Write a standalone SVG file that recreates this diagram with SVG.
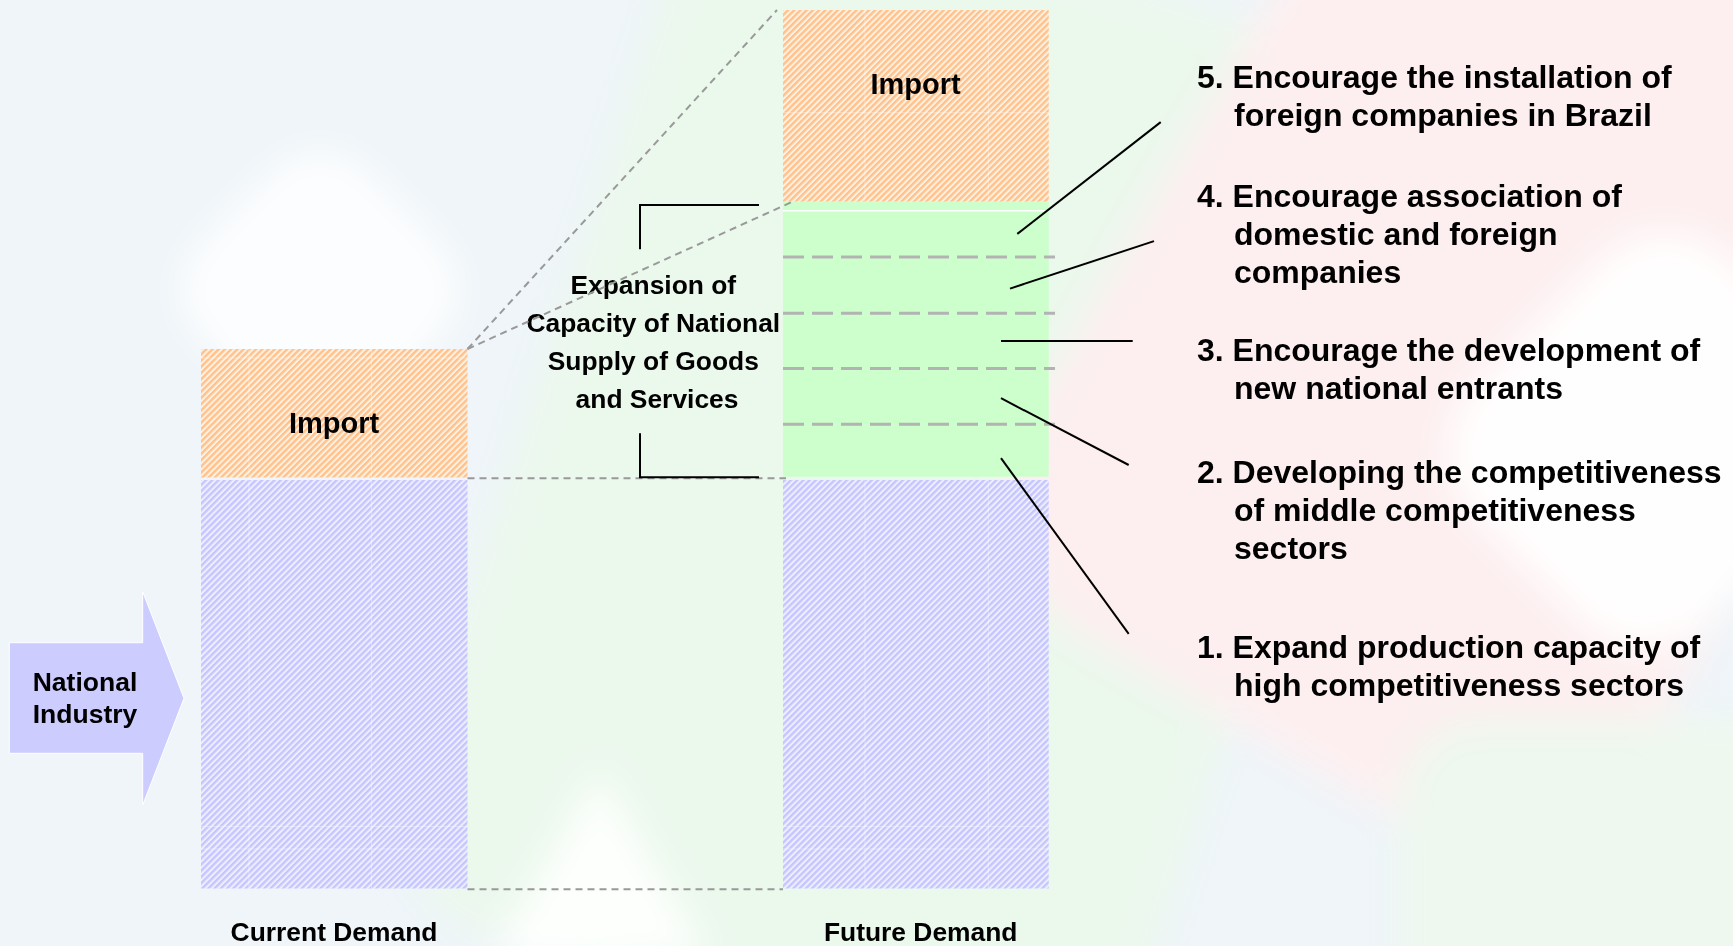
<svg xmlns="http://www.w3.org/2000/svg" width="1733" height="946" viewBox="0 0 1733 946">
<defs>
  <pattern id="hatchOrange" width="4.4" height="4.4" patternUnits="userSpaceOnUse" patternTransform="rotate(45)">
    <rect width="4.4" height="4.4" fill="#fff1e2"/>
    <rect width="2.4" height="4.4" fill="#ffc28c"/>
  </pattern>
  <pattern id="hatchBlue" width="4.4" height="4.4" patternUnits="userSpaceOnUse" patternTransform="rotate(45)">
    <rect width="4.4" height="4.4" fill="#eeeeff"/>
    <rect width="2.4" height="4.4" fill="#c6c6ff"/>
  </pattern>
  <filter id="soft" x="-30%" y="-30%" width="160%" height="160%">
    <feGaussianBlur stdDeviation="18"/>
  </filter>
  <style>
    .lbl { font-family: "Liberation Sans", Arial, sans-serif; font-weight: bold; fill: #000; }
    .mid { text-anchor: middle; }
    .ptr { stroke: #000; stroke-width: 2; fill: none; }
    .brk { stroke: #000; stroke-width: 2; fill: none; }
    .gdash { stroke: #999; stroke-width: 2; stroke-dasharray: 7 5; fill: none; }
    .ldash { stroke: #b3b3b3; stroke-width: 3; stroke-dasharray: 21 8; fill: none; }
    .seam { stroke: #ffffff; stroke-width: 1; opacity: 0.35; }
  </style>
</defs>

<!-- background watermark -->
<g id="background">
  <rect x="0" y="0" width="1733" height="946" fill="#eff5f9"/>
  <g filter="url(#soft)">
    <rect x="520" y="-60" width="760" height="1100" rx="120" fill="#ebf8ec" transform="rotate(18 900 500)"/>
    <rect x="1150" y="-200" width="700" height="1000" rx="160" fill="#fdeff0" transform="rotate(30 1500 300)"/>
    <rect x="1400" y="720" width="500" height="400" rx="80" fill="#eef8ee"/>
    <rect x="200" y="170" width="240" height="240" rx="70" fill="#ffffff" opacity="0.8" transform="rotate(45 320 290)"/>
    <rect x="1490" y="260" width="330" height="360" rx="90" fill="#ffffff" opacity="0.9" transform="rotate(45 1655 440)"/>
    <polygon points="600,770 490,960 710,960" fill="#ffffff" opacity="0.9"/>
  </g>
</g>

<!-- Current demand column -->
<g id="current-import">
  <rect x="201" y="349" width="266.5" height="128.5" fill="url(#hatchOrange)"/>
  <line class="seam" x1="249" y1="349" x2="249" y2="477.5"/>
  <line class="seam" x1="371.5" y1="349" x2="371.5" y2="477.5"/>
  <line class="seam" x1="201" y1="358" x2="467.5" y2="358"/>
  <text class="lbl mid" x="334" y="432.7" font-size="29">Import</text>
</g>
<g id="current-national">
  <rect x="201" y="480" width="266.5" height="408.5" fill="url(#hatchBlue)"/>
  <line class="seam" x1="249" y1="480" x2="249" y2="888.5"/>
  <line class="seam" x1="371.5" y1="480" x2="371.5" y2="888.5"/>
  <line class="seam" x1="201" y1="826.5" x2="467.5" y2="826.5"/>
  <line class="seam" x1="201" y1="849" x2="467.5" y2="849"/>
</g>
<g id="current-demand-label">
  <text class="lbl mid" x="334" y="940.7" font-size="26.4">Current Demand</text>
</g>

<!-- Future demand column -->
<g id="future-import">
  <rect x="783" y="10" width="265.7" height="191.7" fill="url(#hatchOrange)"/>
  <line class="seam" x1="865" y1="10" x2="865" y2="201.7"/>
  <line class="seam" x1="988.3" y1="10" x2="988.3" y2="201.7"/>
  <line class="seam" x1="783" y1="112.7" x2="1048.7" y2="112.7"/>
  <text class="lbl mid" x="915.5" y="94.3" font-size="29">Import</text>
</g>
<g id="future-expansion">
  <rect x="783" y="201.7" width="265.7" height="275" fill="#ccffcc"/>
  <line x1="783" y1="210.7" x2="1048.7" y2="210.7" stroke="#ffffff" stroke-width="1.5"/>
</g>
<g id="future-national">
  <rect x="783" y="480" width="265.7" height="408.5" fill="url(#hatchBlue)"/>
  <line class="seam" x1="865" y1="480" x2="865" y2="888.5"/>
  <line class="seam" x1="988.3" y1="480" x2="988.3" y2="888.5"/>
  <line class="seam" x1="783" y1="826.5" x2="1048.7" y2="826.5"/>
  <line class="seam" x1="783" y1="849" x2="1048.7" y2="849"/>
</g>
<g id="future-demand-label">
  <text class="lbl mid" x="920.7" y="940.7" font-size="26.4">Future Demand</text>
</g>

<!-- National industry arrow -->
<g id="national-industry">
  <polygon points="9.3,642.7 142.7,642.7 142.7,591.7 184,698.3 142.7,805 142.7,753.3 9.3,753.3" fill="#ccccff" stroke="#ffffff" stroke-width="1"/>
  <text class="lbl mid" font-size="26.5"><tspan x="85" y="691">National</tspan><tspan x="85" y="723.3">Industry</tspan></text>
</g>

<!-- Expansion label -->
<g id="expansion-label">
  <text class="lbl mid" font-size="26.4">
    <tspan x="657" y="293.5">Expansion of</tspan>
    <tspan x="657" y="331.8">Capacity of National</tspan>
    <tspan x="657" y="370.1">Supply of Goods</tspan>
    <tspan x="657" y="408.4">and Services</tspan>
  </text>
</g>

<!-- Right-hand list -->
<g id="item-5">
  <text class="lbl" font-size="32"><tspan x="1197" y="88.3">5. Encourage the installation of</tspan><tspan x="1234" y="126.3">foreign companies in Brazil</tspan></text>
</g>
<g id="item-4">
  <text class="lbl" font-size="32"><tspan x="1197" y="206.7">4. Encourage association of</tspan><tspan x="1234" y="244.8">domestic and foreign</tspan><tspan x="1234" y="283">companies</tspan></text>
</g>
<g id="item-3">
  <text class="lbl" font-size="32"><tspan x="1197" y="360.7">3. Encourage the development of</tspan><tspan x="1234" y="398.8">new national entrants</tspan></text>
</g>
<g id="item-2">
  <text class="lbl" font-size="32"><tspan x="1197" y="482.7">2. Developing the competitiveness</tspan><tspan x="1234" y="520.8">of middle competitiveness</tspan><tspan x="1234" y="559">sectors</tspan></text>
</g>
<g id="item-1">
  <text class="lbl" font-size="32"><tspan x="1197" y="657.5">1. Expand production capacity of</tspan><tspan x="1234" y="695.8">high competitiveness sectors</tspan></text>
</g>

<!-- connectors -->
<g id="connectors">
  <line class="ldash" x1="783" y1="257.1" x2="1055" y2="257.1"/>
  <line class="ldash" x1="783" y1="313.2" x2="1055" y2="313.2"/>
  <line class="ldash" x1="783" y1="368.6" x2="1055" y2="368.6"/>
  <line class="ldash" x1="783" y1="424.3" x2="1055" y2="424.3"/>
  <line class="gdash" x1="467.5" y1="349" x2="777" y2="10"/>
  <line class="gdash" x1="467.5" y1="349" x2="792.5" y2="201.7"/>
  <line class="gdash" x1="467.5" y1="478.3" x2="786" y2="478.3"/>
  <line class="gdash" x1="467.5" y1="889.3" x2="783" y2="889.3"/>
  <polyline class="brk" points="640,249.3 640,205 759,205"/>
  <polyline class="brk" points="640,433.3 640,477.3 759,477.3"/>
  <line class="ptr" x1="1017.3" y1="233.9" x2="1160.7" y2="122.1"/>
  <line class="ptr" x1="1010" y1="288.6" x2="1154" y2="241.1"/>
  <line class="ptr" x1="1001" y1="341.1" x2="1132.7" y2="341.1"/>
  <line class="ptr" x1="1001" y1="398.2" x2="1128.7" y2="465"/>
  <line class="ptr" x1="1001" y1="458.2" x2="1128.7" y2="633.9"/>
</g>
</svg>
